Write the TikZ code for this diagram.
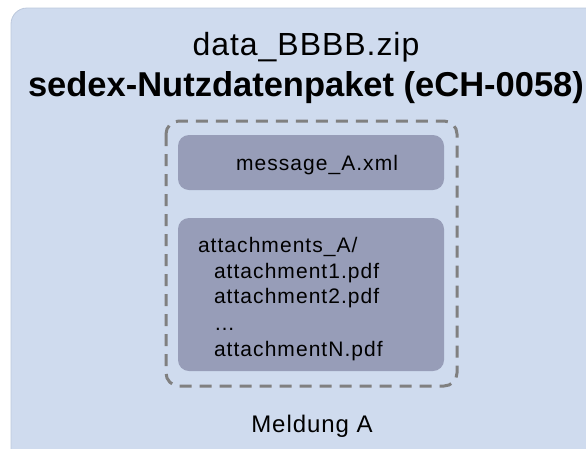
\documentclass[tikz,border=0pt]{standalone}
\usepackage{fontspec}
\setmainfont{Liberation Sans}
\newfontfamily\titleA[LetterSpace=3]{Liberation Sans}
\newfontfamily\bodyfont[LetterSpace=5]{Liberation Sans}
\newfontfamily\meldfont[LetterSpace=4]{Liberation Sans}
\definecolor{outerbg}{HTML}{CFDBEE}
\definecolor{outerln}{HTML}{BCC8DC}
\definecolor{innerbg}{HTML}{979DB8}
\definecolor{dashgray}{HTML}{808080}
\tikzset{
  x=1pt, y=-1pt,
  filebox/.style={fill=innerbg, draw=none, rounded corners=11pt},
  groupbox/.style={draw=dashgray, line width=3pt, dash pattern=on 12pt off 8pt, rounded corners=13pt},
  txt/.style={inner sep=0pt, outer sep=0pt, text=black},
  body/.style={txt, font=\bodyfont\fontsize{21}{24}\selectfont},
}
\begin{document}
\begin{tikzpicture}
\useasboundingbox (0,0) rectangle (586,448);
\clip (0,0) rectangle (586,448);
% outer container
\draw[fill=outerbg, draw=outerln, line width=0.8pt, rounded corners=16pt] (11,8) rectangle (620,480);
% titles
\node[txt, anchor=base, font=\titleA\fontsize{32}{36}\selectfont] (t1) at (306,55) {data\_BBBB.zip};
\node[txt, anchor=base, font=\bfseries\fontsize{34.5}{38}\selectfont] (t2) at (306,96) {sedex-Nutzdatenpaket (eCH-0058)};
% dashed group
\draw[groupbox] (166,121) rectangle (457,386);
% boxes
\path[filebox] (178,135) rectangle (444,190);
\path[filebox] (178,218) rectangle (444,371);
\node[body, anchor=base] (msg) at (317,170) {message\_A.xml};
\node[body, anchor=base west] (a0) at (198,252) {attachments\_A/};
\node[body, anchor=base west] (a1) at (214,278) {attachment1.pdf};
\node[body, anchor=base west] (a2) at (214,303.5) {attachment2.pdf};
\node[body, anchor=base west] (a3) at (214,330) {…};
\node[body, anchor=base west] (a4) at (214,356.5) {attachmentN.pdf};
\node[txt, anchor=base, font=\meldfont\fontsize{24}{28}\selectfont] (meld) at (312,432) {Meldung A};
\end{tikzpicture}
\end{document}
